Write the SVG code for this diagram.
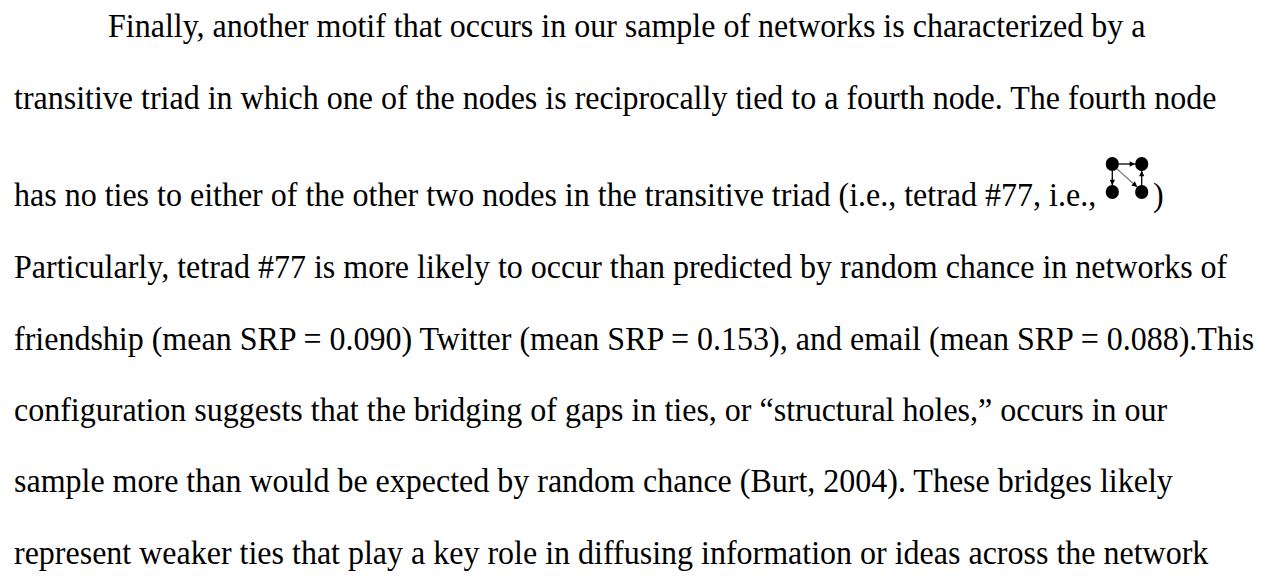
<svg xmlns="http://www.w3.org/2000/svg" width="1271" height="577" viewBox="0 0 1271 577">
  <style>
    .t { font-family: "Liberation Serif", "Times New Roman", serif; font-size: 32px; fill: #000; }
    .node { fill: #000; }
    .edge { stroke: #000; stroke-width: 1.3; fill: none; }
    .edge.gray { stroke: #808080; }
  </style>
  <defs>
    <marker id="ah" viewBox="0 0 10 10" refX="10" refY="5" markerWidth="6" markerHeight="5.5" markerUnits="userSpaceOnUse" orient="auto">
      <path d="M0,0 L10,5 L0,10 z" fill="#000"/>
    </marker>
  </defs>
  <rect width="1271" height="577" fill="#fff"/>
  <g id="paragraph">
    <text class="t" transform="translate(108,37) scale(1,1.08)">Finally, another motif that occurs in our sample of networks is characterized by a</text>
    <text class="t" transform="translate(14,109) scale(1,1.08)">transitive triad in which one of the nodes is reciprocally tied to a fourth node. The fourth node</text>
    <text class="t" transform="translate(14,206) scale(1,1.08)">has no ties to either of the other two nodes in the transitive triad (i.e., tetrad #77, i.e.,</text>
    <text class="t" transform="translate(1153,206) scale(1,1.08)">)</text>
    <text class="t" transform="translate(14,278) scale(1,1.08)">Particularly, tetrad #77 is more likely to occur than predicted by random chance in networks of</text>
    <text class="t" transform="translate(14,350) scale(1,1.08)">friendship (mean SRP = 0.090) Twitter (mean SRP = 0.153), and email (mean SRP = 0.088).This</text>
    <text class="t" transform="translate(14,421) scale(1,1.08)">configuration suggests that the bridging of gaps in ties, or “structural holes,” occurs in our</text>
    <text class="t" transform="translate(14,492) scale(1,1.08)">sample more than would be expected by random chance (Burt, 2004). These bridges likely</text>
    <text class="t" transform="translate(14,564) scale(1,1.08)">represent weaker ties that play a key role in diffusing information or ideas across the network</text>
  </g>
  <g id="motif">
    <g id="connectors">
      <line class="edge" x1="1118.5" y1="164" x2="1135.2" y2="164" marker-end="url(#ah)"/>
      <line class="edge" x1="1112.3" y1="170.5" x2="1112.3" y2="185.2" marker-end="url(#ah)"/>
      <line class="edge gray" x1="1116.5" y1="168.5" x2="1137.2" y2="187" marker-end="url(#ah)"/>
      <line class="edge" x1="1141.7" y1="185.5" x2="1141.7" y2="170.8" marker-end="url(#ah)"/>
    </g>
    <g id="n1"><ellipse class="node" cx="1112.3" cy="164" rx="6.6" ry="6.9"/></g>
    <g id="n2"><ellipse class="node" cx="1141.7" cy="164" rx="6.6" ry="6.9"/></g>
    <g id="n3"><ellipse class="node" cx="1112.3" cy="192" rx="6.6" ry="6.9"/></g>
    <g id="n4"><ellipse class="node" cx="1141.7" cy="192" rx="6.6" ry="6.9"/></g>
  </g>
</svg>
